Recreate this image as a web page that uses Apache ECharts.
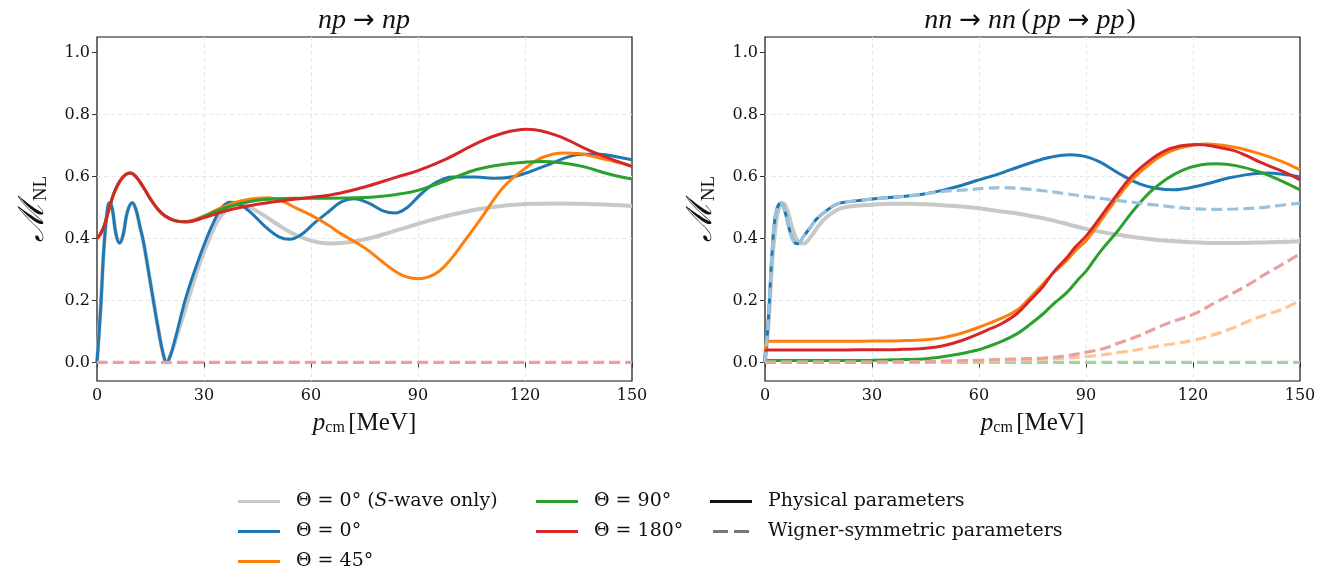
<!DOCTYPE html>
<html><head><meta charset="utf-8">
<script src="https://cdn.jsdelivr.net/npm/echarts@6/dist/echarts.min.js"></script>
<style>html,body{margin:0;padding:0;background:#fff}#c{width:1330px;height:570px}</style>
</head><body><div id="c"></div><script>
// ---------------- data ----------------
const X_TICKS = [0, 30, 60, 90, 120, 150];
const Y_TICKS = [0, 0.2, 0.4, 0.6, 0.8, 1.0];
const LEGEND_LABELS = ['Θ = 0° (S-wave only)', 'Θ = 0°', 'Θ = 45°', 'Θ = 90°', 'Θ = 180°', 'Physical parameters', 'Wigner-symmetric parameters'];

// np -> np (left panel), [p_cm, M_NL]
const npSwave = [[0,0],[1,0.17],[2,0.38],[3,0.5],[3.6,0.515],[4.3,0.495],[5.3,0.415],[6.3,0.385],[7.3,0.41],[8.5,0.485],[9.9,0.515],[11,0.49],[12,0.44],[13,0.39],[14.5,0.29],[15.8,0.2],[17.3,0.1],[18.5,0.03],[19.5,0.0],[20.5,0.02],[22,0.07],[25.5,0.2],[28.5,0.31],[31.5,0.4],[34,0.46],[36.5,0.495],[39,0.51],[42,0.505],[46,0.48],[50,0.45],[55,0.415],[60,0.393],[65,0.384],[70,0.387],[75,0.397],[80,0.412],[90,0.447],[100,0.478],[110,0.5],[120,0.511],[130,0.513],[140,0.51],[150,0.505]];
const npTheta0 = [[0,0],[1,0.17],[2,0.38],[3,0.5],[3.6,0.515],[4.3,0.495],[5.3,0.415],[6.3,0.385],[7.3,0.41],[8.5,0.485],[9.9,0.515],[11,0.49],[12,0.44],[13,0.39],[14.5,0.29],[15.8,0.2],[17.3,0.1],[18.5,0.03],[19.5,0.0],[20.5,0.02],[22,0.08],[24.7,0.2],[27.5,0.3],[30.7,0.4],[33,0.46],[35,0.5],[37.3,0.517],[40,0.51],[43,0.485],[47,0.44],[51,0.405],[54,0.397],[57,0.41],[61,0.45],[65,0.487],[68.5,0.518],[72,0.528],[76,0.515],[80,0.49],[83.5,0.482],[87,0.5],[91,0.545],[95,0.58],[100,0.598],[106,0.598],[112,0.594],[117,0.6],[122,0.618],[127,0.64],[131.3,0.66],[136,0.672],[141,0.672],[146,0.663],[150,0.654]];
const npTheta45 = [[0,0.4],[1,0.415],[2,0.44],[3,0.48],[4,0.52],[5,0.553],[6.4,0.585],[8,0.606],[9.4,0.611],[11,0.598],[13,0.565],[15,0.527],[17,0.495],[19,0.473],[21,0.461],[23,0.455],[25,0.455],[28,0.463],[31,0.478],[35,0.5],[40,0.52],[45,0.53],[48,0.531],[52,0.52],[56,0.497],[60,0.475],[65,0.442],[68,0.418],[75,0.37],[80,0.325],[84,0.291],[87,0.275],[90,0.27],[93,0.276],[96,0.295],[99,0.33],[102.5,0.383],[107.4,0.46],[114,0.566],[120.5,0.63],[125,0.662],[130.7,0.676],[135,0.674],[140,0.662],[145,0.648],[150,0.635]];
const npTheta90 = [[0,0.4],[1,0.415],[2,0.44],[3,0.48],[4,0.52],[5,0.553],[6.4,0.585],[8,0.606],[9.4,0.611],[11,0.598],[13,0.565],[15,0.527],[17,0.495],[19,0.473],[21,0.461],[23,0.455],[25,0.454],[28,0.461],[31,0.476],[35,0.495],[40,0.512],[45,0.523],[50,0.528],[55,0.53],[65,0.53],[75,0.532],[84,0.542],[90,0.555],[98,0.587],[107,0.624],[116,0.642],[125,0.648],[135,0.635],[143.5,0.608],[150,0.592]];
const npTheta180 = [[0,0.4],[1,0.415],[2,0.44],[3,0.48],[4,0.52],[5,0.553],[6.4,0.585],[8,0.606],[9.4,0.611],[11,0.598],[13,0.565],[15,0.527],[17,0.495],[19,0.473],[21,0.461],[23,0.455],[25,0.453],[30,0.467],[37,0.492],[45,0.51],[54,0.525],[62,0.535],[68,0.546],[75,0.566],[84,0.598],[90,0.619],[98,0.657],[107,0.71],[114,0.74],[120.5,0.752],[129,0.732],[138,0.684],[144,0.657],[150,0.632]];
const npWigner = [[0,0],[150,0]];

// nn -> nn (right panel)
const nnSwave = [[0,0],[1,0.13],[2,0.32],[3,0.44],[4,0.5],[5.1,0.514],[6.3,0.49],[7.5,0.44],[9,0.395],[10.7,0.383],[12.5,0.4],[15,0.44],[17.3,0.469],[21,0.496],[25,0.505],[30,0.509],[35,0.512],[40,0.512],[45.3,0.51],[50,0.507],[55,0.503],[59.4,0.498],[65,0.489],[70,0.482],[80,0.46],[90,0.431],[100,0.41],[110,0.395],[120,0.388],[130,0.385],[140,0.387],[150,0.391]];
const nnTheta0 = [[0,0],[1,0.15],[2,0.36],[3,0.48],[4.4,0.514],[5.5,0.49],[6.8,0.43],[8,0.392],[9.1,0.383],[11,0.41],[13,0.44],[14.5,0.463],[17.3,0.49],[20,0.51],[23,0.518],[26,0.522],[30,0.527],[35,0.532],[40,0.537],[45,0.544],[50,0.556],[55,0.571],[59.4,0.587],[65,0.606],[68.7,0.621],[75,0.646],[80,0.662],[85.5,0.67],[90,0.664],[94,0.646],[99.5,0.608],[105,0.576],[110,0.561],[114.5,0.557],[122,0.571],[131.3,0.598],[140.7,0.611],[146,0.606],[150,0.598]];
const nnTheta45 = [[0,0],[0.4,0.068],[10,0.068],[20,0.068],[30,0.069],[38,0.07],[45,0.073],[50,0.08],[55,0.094],[59.4,0.111],[63,0.127],[66,0.141],[70.6,0.168],[74,0.205],[78,0.254],[81,0.29],[84.6,0.329],[87,0.36],[90.2,0.395],[94,0.455],[98.6,0.528],[103,0.59],[107.9,0.641],[112,0.672],[116.3,0.692],[123.8,0.705],[131.3,0.695],[138.8,0.673],[145,0.648],[150,0.621]];
const nnTheta90 = [[0,0.006],[10,0.006],[20,0.006],[30,0.007],[38,0.009],[45.3,0.012],[52,0.022],[59.4,0.039],[63,0.053],[66,0.066],[70.6,0.092],[74,0.12],[78,0.157],[81,0.19],[84.6,0.225],[88,0.27],[90.2,0.297],[93.9,0.356],[98.6,0.42],[103.3,0.49],[108,0.55],[112.6,0.592],[117,0.62],[122,0.637],[126.6,0.641],[132,0.635],[138.8,0.614],[144,0.59],[150,0.557]];
const nnTheta180 = [[0,0],[0.4,0.04],[10,0.04],[20,0.04],[30,0.041],[38,0.042],[45,0.046],[50,0.054],[55,0.07],[59.4,0.09],[63,0.108],[66,0.123],[70.6,0.157],[74,0.197],[78,0.246],[81,0.293],[84.6,0.338],[87,0.372],[90.2,0.41],[94,0.468],[98.6,0.54],[103,0.603],[107.9,0.652],[112,0.682],[116.3,0.698],[121,0.703],[126,0.697],[131.3,0.684],[135,0.667],[138.8,0.646],[145,0.617],[150,0.589]];
const nnWig0 = [[0,0],[1,0.15],[2,0.36],[3,0.48],[4.4,0.514],[5.5,0.49],[6.8,0.43],[8,0.392],[9.1,0.383],[11,0.41],[13,0.44],[14.5,0.463],[17.3,0.49],[20,0.51],[23,0.518],[26,0.522],[30,0.527],[35,0.532],[40,0.537],[45,0.544],[50,0.552],[56.5,0.557],[62,0.562],[66,0.564],[72,0.561],[78,0.554],[84.6,0.544],[90,0.535],[98.6,0.523],[107.9,0.51],[114,0.502],[120,0.496],[126.6,0.494],[132,0.495],[138.8,0.499],[144,0.506],[150,0.514]];
const nnWig45 = [[0,0],[20,0],[40,0.001],[60,0.004],[70,0.007],[80,0.011],[90.2,0.019],[100,0.033],[107,0.046],[112.6,0.057],[120,0.071],[126.6,0.092],[131,0.11],[136,0.135],[140,0.152],[145.3,0.173],[150,0.2]];
const nnWig90 = [[0,0],[150,0]];
const nnWig180 = [[0,0],[20,0],[40,0.002],[50,0.004],[60,0.007],[70,0.011],[78,0.014],[85,0.022],[90.2,0.033],[95,0.045],[98.6,0.06],[105,0.087],[112.6,0.125],[120,0.155],[126.6,0.195],[131,0.222],[136,0.254],[140,0.283],[145.3,0.318],[150,0.35]];

// ---------------- styling ----------------
const C = {gray:'#c8c8c8', blue:'#1f77b4', orange:'#ff7f0e', green:'#2ca02c', red:'#d62728',
  blueL:'#9ac2dd', orangeL:'#ffc593', greenL:'#a0d4a0', redL:'#eb9f9f'};
const TICK_FONT = 'DejaVu Serif';
const MATH_FONT = 'Liberation Serif';
const GRID_LEFTS = [97, 765];

const chart = echarts.init(document.getElementById('c'), null, {renderer:'canvas'});

const gridLine = {show:true, showMinLine:false, showMaxLine:false, lineStyle:{color:'#e6e6e6', type:[4,3], width:1}};
function xAxis(i){
  return {gridIndex:i, type:'value', min:X_TICKS[0], max:X_TICKS[X_TICKS.length-1], interval:30,
    axisLine:{show:false},
    axisTick:{show:true, inside:false, length:5, lineStyle:{color:'#333', width:1}},
    axisLabel:{fontFamily:TICK_FONT, fontSize:16, color:'#111', margin:7},
    splitLine:gridLine,
    name:'{p|p}{s|cm} {t|[MeV]}', nameLocation:'middle', nameGap:30,
    nameTextStyle:{rich:{
      p:{fontFamily:MATH_FONT, fontStyle:'italic', fontSize:25, color:'#111'},
      s:{fontFamily:MATH_FONT, fontSize:16, color:'#111', verticalAlign:'bottom', padding:[9,0,0,0]},
      t:{fontFamily:MATH_FONT, fontSize:25, color:'#111'}}}
  };
}
function yAxis(i){
  return {gridIndex:i, type:'value', min:-0.06, max:1.05,
    axisLine:{show:false},
    axisTick:{show:true, inside:false, length:5, lineStyle:{color:'#333', width:1}, customValues:Y_TICKS},
    axisLabel:{fontFamily:TICK_FONT, fontSize:16, color:'#111', margin:7, customValues:Y_TICKS, formatter:v=>v.toFixed(1)},
    splitLine:gridLine,
    name:'{m|ℳ}{s|NL}', nameLocation:'middle', nameGap:46, nameRotate:90,
    nameTextStyle:{rich:{
      m:{fontFamily:'DejaVu Serif', fontStyle:'italic', fontSize:35, color:'#111'},
      s:{fontFamily:MATH_FONT, fontSize:19, color:'#111', verticalAlign:'bottom', padding:[12,0,0,1]}}}
  };
}
function line(name, i, data, color, width, dashed, z){
  return {name, type:'line', xAxisIndex:i, yAxisIndex:i, data, symbol:'none', showSymbol:false,
    smooth:0.4, silent:true, animation:false, z:z||2,
    lineStyle:{color, width, type: dashed ? [11,5] : 'solid', cap:'butt'},
    itemStyle:{color}, emphasis:{disabled:true}};
}
const L = LEGEND_LABELS;
const series = [
  line(L[0],0,npSwave,C.gray,4),
  line(L[1],0,npTheta0,C.blue,3),
  line(L[2],0,npTheta45,C.orange,3),
  line(L[3],0,npTheta90,C.green,3),
  line(L[4],0,npTheta180,C.red,3),
  line('np Wigner 180',0,npWigner,C.redL,3.2,true,3),
  line(L[0],1,nnSwave,C.gray,4),
  line(L[1],1,nnTheta0,C.blue,3),
  line(L[2],1,nnTheta45,C.orange,3),
  line(L[3],1,nnTheta90,C.green,3),
  line(L[4],1,nnTheta180,C.red,3),
  line('nn Wigner 0',1,nnWig0,C.blueL,3.2,true,3),
  line('nn Wigner 90',1,nnWig90,C.greenL,3.2,true,3),
  line('nn Wigner 45',1,nnWig45,C.orangeL,3.2,true,3),
  line('nn Wigner 180',1,nnWig180,C.redL,3.2,true,3),
  line(L[5],0,[],'#111',3),
  line(L[6],0,[],'#777',3,true)
];
const DASH_ICON = 'path://M0,0h15v3h-15zM21,0h15v3h-15z';
const legendText = {fontFamily:TICK_FONT, fontSize:19, color:'#111', lineHeight:18};
const legendBase = {orient:'vertical', itemWidth:42, itemHeight:3, itemGap:11, selectedMode:false, top:492, height:100, padding:0,
  formatter: n => n === L[0] ? '{r|Θ = 0° (}{i|S}{r|-wave only)}' : n,
  textStyle:Object.assign({}, legendText, {padding:[0,0,0,11], rich:{
    r:legendText, i:Object.assign({}, legendText, {fontStyle:'italic'})}})};
const option = {
  animation:false,
  backgroundColor:'#fff',
  grid: GRID_LEFTS.map(l => ({left:l, top:37, width:535, height:344, show:true, borderColor:'#111', borderWidth:1.2, backgroundColor:'transparent', containLabel:false})),
  xAxis:[xAxis(0), xAxis(1)],
  yAxis:[yAxis(0), yAxis(1)],
  legend:[
    Object.assign({}, legendBase, {left:238, data:[{name:L[0],icon:'rect'},{name:L[1],icon:'rect'},{name:L[2],icon:'rect'}]}),
    Object.assign({}, legendBase, {left:536, data:[{name:L[3],icon:'rect'},{name:L[4],icon:'rect'}]}),
    Object.assign({}, legendBase, {left:710, data:[{name:L[5],icon:'rect'},{name:L[6],icon:DASH_ICON}]})
  ],
  graphic:[
    {type:'text', x:364, y:21, style:{text:'{i|np}{a|→}{i|np}', align:'center', verticalAlign:'middle',
      rich:{i:{fontFamily:MATH_FONT, fontStyle:'italic', fontSize:28, fill:'#111'}, a:{fontFamily:'DejaVu Sans', fontSize:26, fill:'#111', padding:[0,7,0,7]}}}},
    {type:'text', x:1031, y:21, style:{text:'{i|nn}{a|→}{i|nn} {r|(}{i|pp}{a|→}{i|pp}{r|)}', align:'center', verticalAlign:'middle',
      rich:{i:{fontFamily:MATH_FONT, fontStyle:'italic', fontSize:28, fill:'#111'}, a:{fontFamily:'DejaVu Sans', fontSize:26, fill:'#111', padding:[0,7,0,7]}, r:{fontFamily:MATH_FONT, fontSize:28, fill:'#111', padding:[0,2,0,2]}}}}
  ],
  series
};
chart.setOption(option);
</script></body></html>
